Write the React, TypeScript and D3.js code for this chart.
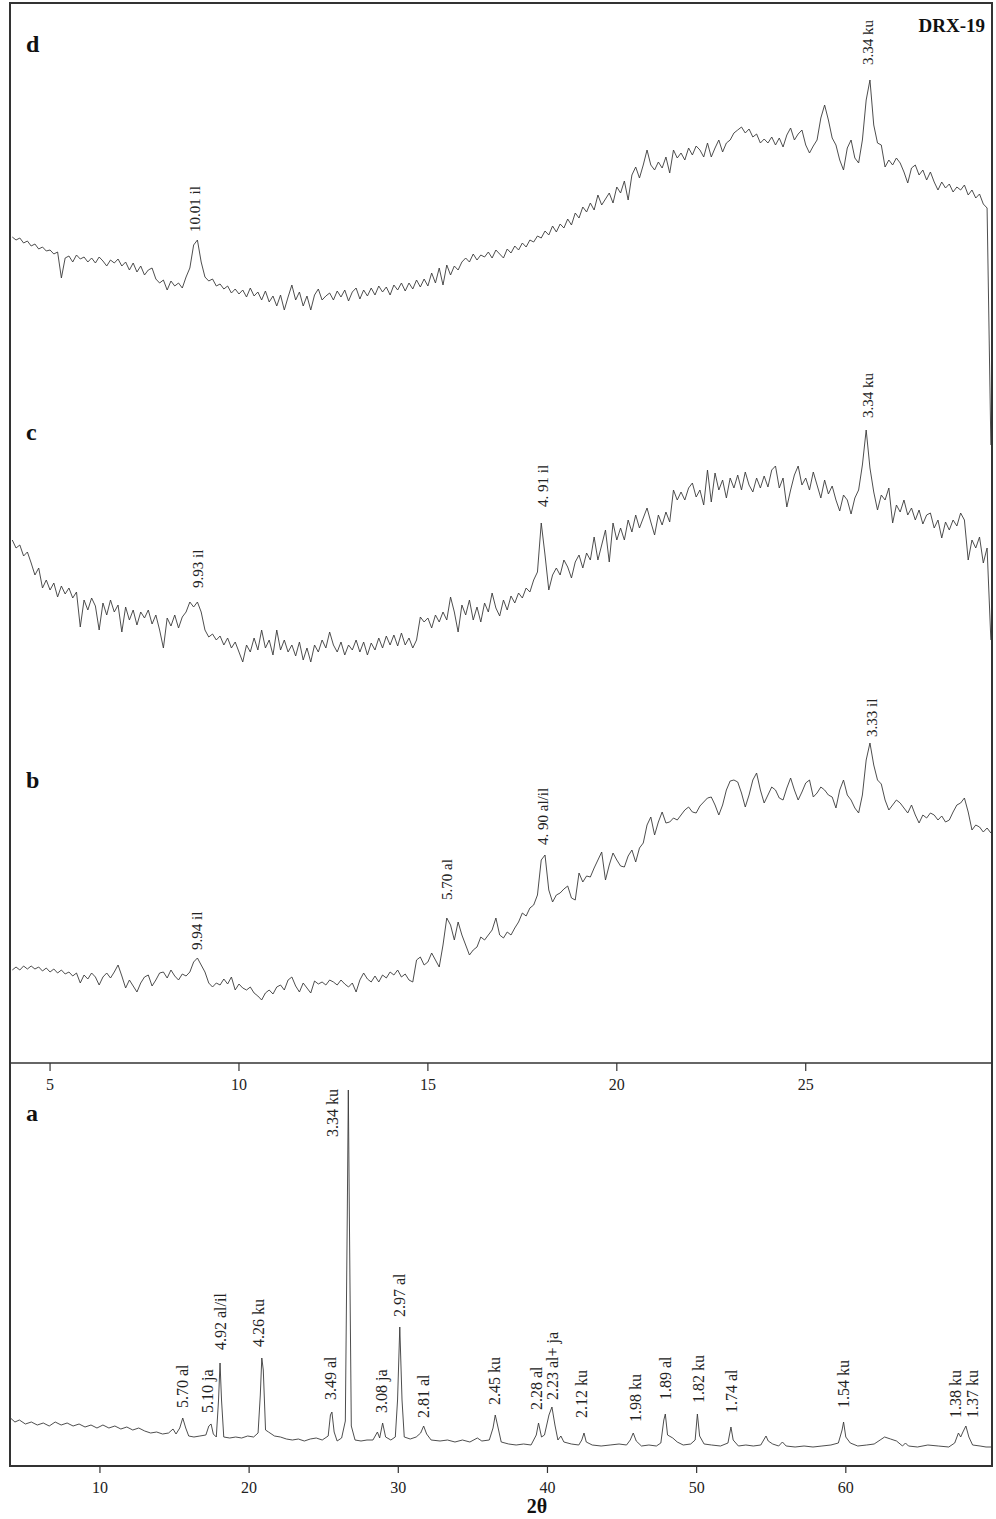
import React from "react";
import * as d3 from "d3";

// ---- top panel scans (b, c, d), 4.0 - 29.9 deg 2θ at 0.1 deg ----
const SCAN_START = 4.0;
const SCAN_STEP = 0.1;

// intensities (arbitrary units), stacked with the offsets below
const D_VALUES = [
  226, 223, 225, 220, 222, 217, 219, 214, 216, 212,
  213, 209, 211, 185, 205, 207, 201, 208, 204, 206,
  201, 205, 200, 206, 202, 197, 203, 200, 204, 197,
  201, 193, 200, 191, 197, 188, 193, 195, 184, 180,
  183, 173, 182, 177, 180, 175, 186, 195, 218, 223,
  201, 186, 182, 184, 177, 179, 174, 177, 170, 174,
  169, 173, 166, 175, 167, 171, 163, 172, 161, 167,
  157, 168, 153, 166, 178, 163, 171, 157, 167, 153,
  168, 174, 163, 167, 170, 163, 172, 166, 173, 162,
  171, 175, 164, 173, 167, 175, 168, 177, 171, 176,
  168, 178, 173, 180, 172, 180, 174, 183, 176, 184,
  177, 190, 180, 195, 178, 198, 188, 197, 193, 201,
  205, 201, 209, 203, 208, 206, 211, 205, 213, 209,
  205, 214, 210, 217, 213, 220, 216, 223, 221, 227,
  225, 232, 228, 237, 231, 239, 235, 244, 238, 250,
  245, 256, 251, 260, 253, 268, 258, 264, 270, 260,
  276, 270, 282, 263, 288, 296, 285, 298, 313, 298,
  293, 301, 295, 306, 290, 313, 305, 310, 303, 315,
  308, 317, 313, 306, 320, 306, 315, 323, 311, 320,
  323, 330, 333, 336, 330, 334, 326, 329, 320, 324,
  320, 326, 318, 325, 316, 328, 335, 323, 329, 333,
  318, 310, 317, 323, 345, 358, 343, 325, 318, 303,
  293, 315, 323, 305, 300, 323, 363, 383, 338, 320,
  318, 296, 303, 298, 305, 300, 291, 280, 295, 298,
  288, 293, 283, 291, 281, 273, 281, 275, 279, 271,
  276, 273, 278, 268, 273, 265, 269, 259, 255, 18,
];

const C_VALUES = [
  223, 215, 218, 207, 211, 200, 188, 195, 175, 183,
  173, 180, 166, 177, 169, 175, 165, 171, 136, 163,
  153, 165, 157, 133, 160, 148, 163, 151, 158, 131,
  156, 143, 153, 138, 151, 145, 153, 139, 148, 133,
  115, 145, 137, 148, 135, 146, 151, 161, 156, 161,
  151, 133, 126, 129, 123, 127, 118, 125, 115, 121,
  111, 101, 118, 111, 125, 113, 133, 115, 123, 108,
  133, 113, 123, 111, 118, 107, 121, 103, 115, 101,
  118, 111, 123, 115, 131, 118, 111, 121, 108, 118,
  113, 123, 111, 121, 108, 120, 113, 125, 115, 127,
  118, 128, 117, 130, 118, 125, 115, 123, 146, 141,
  145, 135, 148, 141, 151, 143, 166, 151, 131, 158,
  148, 163, 143, 156, 141, 160, 151, 170, 155, 147,
  163, 153, 167, 160, 170, 165, 175, 171, 183, 191,
  240, 208, 173, 188, 195, 188, 203, 196, 185, 201,
  208, 195, 210, 203, 226, 203, 218, 233, 201, 240,
  223, 235, 223, 243, 231, 248, 235, 245, 255, 241,
  228, 248, 238, 251, 241, 273, 263, 271, 263, 275,
  280, 266, 273, 258, 293, 261, 290, 273, 283, 265,
  285, 275, 288, 273, 291, 278, 271, 285, 275, 287,
  276, 293, 297, 275, 285, 256, 273, 288, 297, 278,
  285, 273, 291, 278, 265, 283, 269, 277, 263, 252,
  268, 263, 249, 265, 273, 298, 333, 295, 271, 253,
  268, 263, 275, 240, 258, 251, 263, 248, 255, 243,
  253, 239, 248, 250, 235, 243, 225, 241, 233, 243,
  237, 250, 243, 203, 223, 215, 226, 200, 215, 123,
];

const B_VALUES = [
  93, 96, 93, 97, 94, 97, 94, 96, 92, 95,
  91, 94, 90, 93, 89, 91, 87, 90, 80, 88,
  84, 90, 86, 78, 86, 90, 85, 91, 98, 87,
  75, 83, 77, 71, 80, 86, 88, 77, 83, 90,
  91, 85, 93, 87, 83, 89, 87, 91, 101, 105,
  98, 91, 80, 76, 80, 78, 84, 79, 86, 73,
  79, 75, 73, 76, 70, 67, 63, 70, 73, 69,
  76, 78, 73, 83, 86, 77, 71, 80, 75, 70,
  82, 79, 81, 78, 83, 81, 78, 83, 79, 76,
  80, 71, 83, 90, 84, 81, 87, 81, 88, 85,
  91, 88, 93, 86, 89, 83, 81, 103, 106, 98,
  101, 110, 103, 96, 118, 145, 138, 123, 141, 128,
  118, 108, 113, 116, 126, 123, 128, 133, 145, 128,
  125, 131, 128, 135, 141, 150, 147, 155, 158, 168,
  203, 208, 173, 161, 168, 170, 174, 177, 165, 163,
  190, 181, 187, 186, 195, 203, 211, 183, 198, 210,
  203, 197, 196, 207, 213, 201, 215, 220, 238, 246,
  228, 241, 251, 240, 241, 245, 243, 248, 253, 256,
  251, 250, 257, 261, 265, 266, 258, 248, 258, 273,
  282, 283, 281, 270, 256, 268, 283, 290, 273, 260,
  268, 276, 273, 265, 263, 275, 285, 273, 263, 271,
  280, 283, 266, 270, 276, 273, 268, 266, 255, 273,
  283, 268, 263, 255, 250, 268, 303, 320, 298, 283,
  279, 263, 253, 258, 263, 260, 255, 250, 258, 248,
  240, 248, 245, 250, 248, 243, 247, 241, 243, 251,
  258, 260, 265, 251, 233, 238, 236, 231, 235, 230,
];

const D_OFFSET = 600;
const C_OFFSET = 300;
const B_OFFSET = 0;

// ---- bottom panel (a), whole-rock scan: [2θ, intensity] ----
const A_POINTS: [number, number][] = [
  [4.0, 48], [4.3, 44], [4.6, 46], [5.0, 42], [5.4, 44], [5.8, 41], [6.2, 43], [6.6, 40],
  [7.0, 44], [7.4, 41], [7.8, 43], [8.2, 40], [8.6, 42], [9.0, 39], [9.4, 41], [9.8, 38],
  [10.2, 41], [10.6, 38], [11.0, 40], [11.4, 37], [11.8, 39], [12.2, 36], [12.6, 38], [13.0, 35],
  [13.4, 33], [13.8, 34], [14.2, 32], [14.6, 33], [14.9, 37], [15.1, 32], [15.35, 38], [15.55, 48],
  [15.75, 38], [15.95, 30], [16.3, 29], [16.7, 30], [17.1, 31], [17.3, 40], [17.45, 42], [17.6, 32],
  [17.8, 29], [17.95, 66], [18.05, 103], [18.15, 66], [18.3, 29], [18.7, 28], [19.1, 29], [19.5, 28],
  [19.9, 30], [20.3, 29], [20.6, 33], [20.75, 71], [20.85, 108], [20.95, 96], [21.1, 36], [21.3, 34],
  [21.7, 30], [22.1, 29], [22.5, 27], [22.9, 26], [23.3, 27], [23.7, 25], [24.1, 27], [24.5, 28],
  [24.9, 26], [25.3, 30], [25.45, 51], [25.55, 54], [25.7, 34], [25.9, 25], [26.2, 28], [26.45, 45],
  [26.58, 250], [26.65, 376], [26.72, 250], [26.85, 40], [27.1, 26], [27.5, 25], [27.9, 26], [28.3, 26],
  [28.6, 34], [28.75, 28], [28.95, 43], [29.15, 29], [29.5, 26], [29.8, 29], [29.95, 66], [30.1, 139],
  [30.25, 66], [30.4, 29], [30.8, 27], [31.2, 29], [31.5, 33], [31.7, 40], [31.9, 32], [32.2, 26],
  [32.8, 25], [33.3, 26], [33.8, 24], [34.3, 26], [34.8, 24], [35.3, 28], [35.6, 25], [36.1, 26],
  [36.35, 38], [36.5, 51], [36.65, 41], [36.9, 24], [37.4, 22], [37.9, 21], [38.4, 22], [38.9, 21],
  [39.25, 31], [39.4, 43], [39.6, 29], [39.8, 31], [40.1, 51], [40.3, 59], [40.5, 41], [40.7, 26],
  [40.9, 30], [41.1, 24], [41.6, 22], [42.1, 21], [42.3, 26], [42.45, 33], [42.6, 24], [43.0, 21],
  [43.6, 20], [44.2, 21], [44.8, 22], [45.3, 21], [45.55, 26], [45.75, 33], [45.95, 25], [46.3, 20],
  [46.8, 21], [47.3, 20], [47.6, 23], [47.8, 46], [47.9, 52], [48.05, 31], [48.4, 28], [48.7, 24],
  [49.1, 21], [49.6, 22], [49.9, 26], [50.05, 52], [50.2, 30], [50.5, 22], [51.0, 21], [51.6, 20],
  [52.1, 23], [52.3, 39], [52.45, 26], [52.8, 20], [53.3, 21], [53.8, 20], [54.3, 21], [54.65, 30],
  [54.8, 25], [55.1, 22], [55.5, 20], [55.75, 24], [56.0, 20], [56.6, 19], [57.2, 20], [57.8, 19],
  [58.4, 20], [59.0, 21], [59.5, 23], [59.75, 36], [59.85, 44], [60.0, 29], [60.3, 23], [60.8, 20],
  [61.4, 21], [61.9, 22], [62.3, 26], [62.6, 29], [63.0, 27], [63.4, 25], [63.8, 20], [64.0, 23],
  [64.2, 20], [64.8, 19], [65.5, 21], [66.2, 20], [66.9, 19], [67.3, 23], [67.55, 33], [67.7, 29],
  [67.85, 34], [68.05, 40], [68.25, 29], [68.5, 21], [69.0, 20], [69.4, 19], [69.8, 19],
];

// peak labels: [text, 2θ, intensity level where the label starts]
const TOP_LABELS: [string, number, number][] = [
  ["10.01 il", 8.84, 831],
  ["3.34 ku", 26.64, 998],
  ["9.93 il", 8.92, 475],
  ["4. 91 il", 18.04, 556],
  ["3.34 ku", 26.64, 645],
  ["9.94 il", 8.89, 113],
  ["5.70 al", 15.5, 163],
  ["4. 90 al/il", 18.04, 218],
  ["3.33 il", 26.75, 326],
];

const A_LABELS: [string, number, number][] = [
  ["5.70 al", 15.55, 58],
  ["5.10 ja", 17.23, 53],
  ["4.92 al/il", 18.1, 116],
  ["4.26 ku", 20.65, 119],
  ["3.49 al", 25.47, 66],
  ["3.34 ku", 25.6, 329],
  ["3.08 ja", 28.89, 53],
  ["2.97 al", 30.09, 149],
  ["2.81 al", 31.7, 48],
  ["2.45 ku", 36.46, 61],
  ["2.28 al", 39.27, 56],
  ["2.23 al+ ja", 40.34, 66],
  ["2.12 ku", 42.28, 48],
  ["1.98 ku", 45.9, 44],
  ["1.89 al", 47.91, 66],
  ["1.82 ku", 50.12, 63],
  ["1.74 al", 52.33, 53],
  ["1.54 ku", 59.83, 58],
  ["1.38 ku", 67.33, 48],
  ["1.37 ku", 68.47, 48],
];

const TOP_TICKS = [5, 10, 15, 20, 25];
const BOTTOM_TICKS = [10, 20, 30, 40, 50, 60];

const PANEL_LETTERS: [string, number][] = [
  ["d", 52],
  ["c", 440],
  ["b", 788],
  ["a", 1121],
];

const SERIF = "'Liberation Serif', 'Times New Roman', serif";
const INK = "#333";

export default function App() {
  const left = 10;
  const right = 992;
  const top = 3;
  const mid = 1063;
  const bottom = 1466;

  const xTop = d3.scaleLinear().domain([3.94, 29.93]).range([left, right]);
  const yTop = d3.scaleLinear().domain([0, 1060]).range([mid, top]);
  const xBot = d3.scaleLinear().domain([3.97, 69.8]).range([left, right]);
  const yBot = d3.scaleLinear().domain([0, 403]).range([bottom, mid]);

  const scanPath = (vals: number[], offset: number) =>
    d3
      .line<number>()
      .x((_, i) => xTop(SCAN_START + i * SCAN_STEP))
      .y((v) => yTop(v + offset))(vals) || "";

  const aPath =
    d3
      .line<[number, number]>()
      .x((d) => xBot(d[0]))
      .y((d) => yBot(d[1]))(A_POINTS) || "";

  const traceStyle = { fill: "none", stroke: "#3a3a3a", strokeWidth: 0.9 };

  return (
    <svg
      width={996}
      height={1519}
      style={{ position: "absolute", left: 0, top: 0, background: "#fff" }}
      fontFamily={SERIF}
    >
      {/* traces */}
      <path d={scanPath(D_VALUES, D_OFFSET)} {...traceStyle} />
      <path d={scanPath(C_VALUES, C_OFFSET)} {...traceStyle} />
      <path d={scanPath(B_VALUES, B_OFFSET)} {...traceStyle} />
      <path d={aPath} {...traceStyle} />

      {/* frame */}
      <rect
        x={left}
        y={top}
        width={right - left}
        height={bottom - top}
        fill="none"
        stroke={INK}
        strokeWidth={2}
      />
      <line x1={left} x2={right} y1={mid} y2={mid} stroke={INK} strokeWidth={1.6} />

      {/* top panel axis (ticks hang below the divider) */}
      {TOP_TICKS.map((t) => (
        <g key={"tt" + t}>
          <line x1={xTop(t)} x2={xTop(t)} y1={mid} y2={mid + 8} stroke={INK} strokeWidth={1.2} />
          <text x={xTop(t)} y={mid + 27} fontSize={16} textAnchor="middle" fill="#222">
            {t}
          </text>
        </g>
      ))}

      {/* bottom axis */}
      {BOTTOM_TICKS.map((t) => (
        <g key={"bt" + t}>
          <line x1={xBot(t)} x2={xBot(t)} y1={bottom} y2={bottom + 7} stroke={INK} strokeWidth={1.2} />
          <text x={xBot(t)} y={bottom + 27} fontSize={16} textAnchor="middle" fill="#222">
            {t}
          </text>
        </g>
      ))}
      <text x={xBot(39.3)} y={1513} fontSize={20} fontWeight="bold" textAnchor="middle" fill="#111">
        2θ
      </text>

      {/* peak labels */}
      {TOP_LABELS.map(([t, x, lvl], i) => (
        <text
          key={"tl" + i}
          transform={`translate(${xTop(x)},${yTop(lvl)}) rotate(-90)`}
          fontSize={15}
          dominantBaseline="central"
          fill="#222"
        >
          {t}
        </text>
      ))}
      {A_LABELS.map(([t, x, lvl], i) => (
        <text
          key={"al" + i}
          transform={`translate(${xBot(x)},${yBot(lvl)}) rotate(-90)`}
          fontSize={16}
          dominantBaseline="central"
          fill="#222"
        >
          {t}
        </text>
      ))}

      {/* panel letters and sample id */}
      {PANEL_LETTERS.map(([l, y]) => (
        <text key={l} x={26} y={y} fontSize={24} fontWeight="bold" fill="#111">
          {l}
        </text>
      ))}
      <text x={985} y={32} fontSize={19} fontWeight="bold" textAnchor="end" fill="#111">
        DRX-19
      </text>
    </svg>
  );
}
